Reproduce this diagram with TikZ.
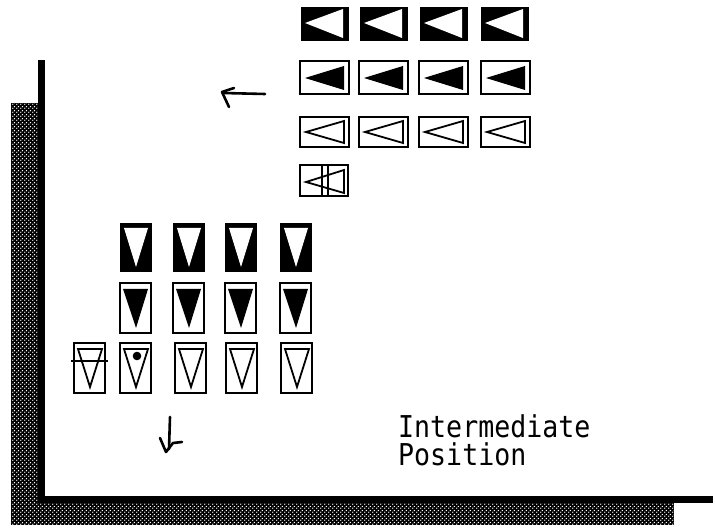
\documentclass[tikz,border=0pt]{standalone}
\usepackage{fontspec}
\newfontfamily\monofnt{DejaVu Sans Mono}
\usetikzlibrary{patterns}
\pgfdeclarepatternformonly{wdots}{\pgfpointorigin}{\pgfpoint{4pt}{4pt}}{\pgfpoint{4pt}{4pt}}{%
  \pgfpathcircle{\pgfpoint{1pt}{1pt}}{0.85pt}%
  \pgfpathcircle{\pgfpoint{3pt}{3pt}}{0.85pt}%
  \pgfusepath{fill}}
\tikzset{
  obox/.style={draw=black, line width=2.4pt},
  otri/.style={draw=black, line width=1.8pt, line join=miter},
  hatch/.style={pattern=wdots, pattern color=white},
  arr/.style={line width=2.6pt, line cap=round, line join=round},
  lbl/.style={font=\monofnt\fontsize{26.6}{28}\selectfont, inner sep=0pt, yscale=1.13},
  % horizontal boxes (triangle pointing left)
  hblack/.pic={\fill[black] (0,0) rectangle (48,34);
               \fill[white] (4,16) -- (42,2) -- (42,31) -- cycle;},
  hfilled/.pic={\draw[obox] (0,0) rectangle (49,33);
               \fill[black] (5,17) -- (44,5) -- (44,29) -- cycle;},
  hopen/.pic={\draw[obox] (0,0) rectangle (49,30);
               \draw[otri] (6,15) -- (44,4) -- (44,26) -- cycle;},
  hsplit/.pic={\draw[obox] (0,0) rectangle (48,31);
               \draw[otri] (6,17) -- (44,5) -- (44,28) -- cycle;
               \draw[obox] (22,0) -- (22,31);
               \draw[obox] (28,0) -- (28,31);},
  % vertical boxes (triangle pointing down)
  vblack/.pic={\fill[black] (0,0) rectangle (32,49);
               \fill[white] (4,5) -- (28,5) -- (16,44) -- cycle;},
  vfilled/.pic={\draw[obox] (0,0) rectangle (31,50);
               \fill[black] (3,6) -- (28,6) -- (16,45) -- cycle;},
  vopen/.pic={\draw[obox] (0,0) rectangle (31,50);
               \draw[otri] (4,6) -- (28,6) -- (16,44) -- cycle;},
}
\begin{document}
\begin{tikzpicture}[x=1pt,y=-1pt]
\useasboundingbox (0,0) rectangle (715,529);
\fill[white] (0,0) rectangle (715,529);
% shaded frame
\fill[black] (11,103) rectangle (38,525);
\fill[black] (11,503) rectangle (674,525);
\fill[hatch] (11,103) rectangle (38,525);
\fill[hatch] (38,503) rectangle (674,525);
% black frame lines
\fill[black] (38,60) rectangle (45,503);
\fill[black] (38,496) rectangle (713,503);
% horizontal boxes
\foreach \x in {301,360,420,481} { \pic at (\x,7) {hblack}; }
\foreach \x in {300,359,419,481} { \pic at (\x,61) {hfilled}; }
\foreach \x in {300,359,419,481} { \pic at (\x,117) {hopen}; }
\pic at (300,165) {hsplit};
% vertical boxes
\foreach \x in {120,173,225,280} { \pic at (\x,223) {vblack}; }
\foreach \x in {120,173,225,280} { \pic at (\x,283) {vfilled}; }
\foreach \x in {120,175,226,281} { \pic at (\x,343) {vopen}; }
\pic at (74,343) {vopen};
\draw[obox] (71,361) -- (108,361);
\fill[black] (137,356) circle (4.3);
% arrows
\coordinate (la0) at (265,94);
\coordinate (la1) at (223,93);
\draw[arr] (la0) -- (la1);
\draw[arr] (234,88) -- (222,92) -- (229,107);
\coordinate (da0) at (170,417);
\coordinate (da1) at (169,449);
\draw[arr] (da0) -- (da1);
\draw[arr] (160,438) -- (166,452) -- (173,443) -- (182,442);
% label
\node[lbl, anchor=base west] (t1) at (398,437) {Intermediate};
\node[lbl, anchor=base west] (t2) at (398,465) {Position};
\end{tikzpicture}
\end{document}
